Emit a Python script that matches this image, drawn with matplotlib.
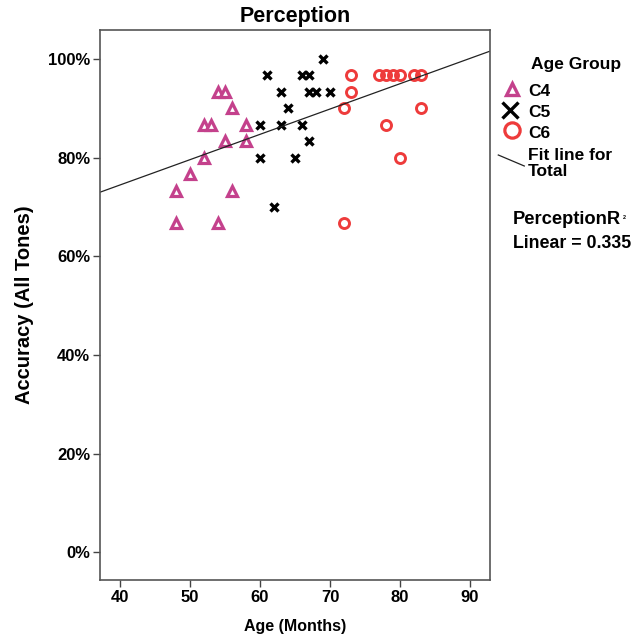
import numpy as np
import matplotlib
matplotlib.use("Agg")
import matplotlib.pyplot as plt
from matplotlib.lines import Line2D
from matplotlib.ticker import FuncFormatter

plt.rcParams['font.family'] = ['Liberation Sans', 'DejaVu Sans']
plt.rcParams['font.weight'] = 'bold'

# Data: age (months) and accuracy (%)
c4_age = [54, 55, 56, 52, 53, 58, 55, 58, 52, 50, 48, 56, 48, 54]
c4_acc = [93.3, 93.3, 90.0, 86.7, 86.7, 86.7, 83.3, 83.3, 80.0, 76.7, 73.3, 73.3, 66.7, 66.7]

c5_age = [69, 61, 66, 67, 63, 67, 68, 70, 64, 60, 63, 66, 67, 60, 65, 62]
c5_acc = [100.0, 96.7, 96.7, 96.7, 93.3, 93.3, 93.3, 93.3, 90.0, 86.7, 86.7, 86.7, 83.3, 80.0, 80.0, 70.0]

c6_age = [73, 77, 78, 79, 80, 82, 83, 73, 72, 83, 78, 80, 72]
c6_acc = [96.7, 96.7, 96.7, 96.7, 96.7, 96.7, 96.7, 93.3, 90.0, 90.0, 86.7, 80.0, 66.7]

groups = ["C4", "C5", "C6"]
# Fit line for total
fit_intercept = 54.0
fit_slope = 0.5125
r2_text = "Linear = 0.335"

xticks = [40, 50, 60, 70, 80, 90]
yticks = [0, 20, 40, 60, 80, 100]

MAG = "#C4418C"
RED = "#EE3B3B"

fig = plt.figure(figsize=(6.42, 6.42), dpi=100)
W = H = 642.0
ax = fig.add_axes([100 / W, 1 - 580 / H, 390 / W, 550 / H])

ax.plot(c4_age, c4_acc, linestyle='none', marker='^', markersize=7,
        markerfacecolor='white', markeredgecolor=MAG, markeredgewidth=2.3)
ax.plot(c5_age, c5_acc, linestyle='none', marker='x', markersize=6,
        color='black', markeredgewidth=2.4)
ax.plot(c6_age, c6_acc, linestyle='none', marker='o', markersize=7.2,
        markerfacecolor='none', markeredgecolor=RED, markeredgewidth=2.1)

xmin, xmax = 37.1, 92.9
ax.set_xlim(xmin, xmax)
ax.set_ylim(-5.6, 105.9)
xx = np.array([xmin, xmax])
ax.plot(xx, fit_slope * xx + fit_intercept, color='#222222', linewidth=0.9)

ax.set_xticks(xticks)
ax.set_yticks(yticks)
ax.yaxis.set_major_formatter(FuncFormatter(lambda v, p: f"{int(v)}%"))
ax.tick_params(axis='both', direction='out', length=5, width=1.0, color='#444444',
               labelsize=12, pad=2)
for lab in ax.get_xticklabels() + ax.get_yticklabels():
    lab.set_fontweight('bold')
for s in ax.spines.values():
    s.set_color('#555555')
    s.set_linewidth(1.2)

ax.set_title("Perception", fontsize=15.5, fontweight='bold', pad=6)
ax.set_xlabel("Age (Months)", fontsize=11.5, fontweight='bold', labelpad=10)
ax.set_ylabel("Accuracy (All Tones)", fontsize=14.5, fontweight='bold', labelpad=10)

def fx(px):
    return px / W

def fy(py):
    return 1 - py / H

# Legend (manual)
fig.text(fx(576), fy(64), "Age Group", ha='center', va='center', fontsize=12.5, fontweight='bold')
fig.add_artist(Line2D([fx(511.7)], [fy(88.5)], marker='^', markersize=9, markerfacecolor='white',
                      markeredgecolor=MAG, markeredgewidth=2.4, linestyle='none'))
fig.add_artist(Line2D([fx(510)], [fy(110)], marker='x', markersize=11, color='black',
                      markeredgewidth=2.4, linestyle='none'))
fig.add_artist(Line2D([fx(511.7)], [fy(130)], marker='o', markersize=11, markerfacecolor='none',
                      markeredgecolor=RED, markeredgewidth=2.3, linestyle='none'))
for lbl, py in zip(groups, [91.5, 112.5, 133]):
    fig.text(fx(528), fy(py), lbl, ha='left', va='center', fontsize=12.5, fontweight='bold')
fig.add_artist(Line2D([fx(498.3), fx(524.3)], [fy(155), fy(166)], color='#222222', linewidth=0.9))
fig.text(fx(528), fy(155), "Fit line for", ha='left', va='center', fontsize=12.5, fontweight='bold')
fig.text(fx(528), fy(171), "Total", ha='left', va='center', fontsize=12.5, fontweight='bold')

fig.text(fx(513), fy(220), "PerceptionR", ha='left', va='center', fontsize=13.2, fontweight='bold')
fig.text(fx(623), fy(218), "2", ha='left', va='center', fontsize=4, fontweight='bold')
fig.text(fx(513), fy(244), r2_text, ha='left', va='center', fontsize=12.8, fontweight='bold')

fig.savefig("out.png", dpi=100)
